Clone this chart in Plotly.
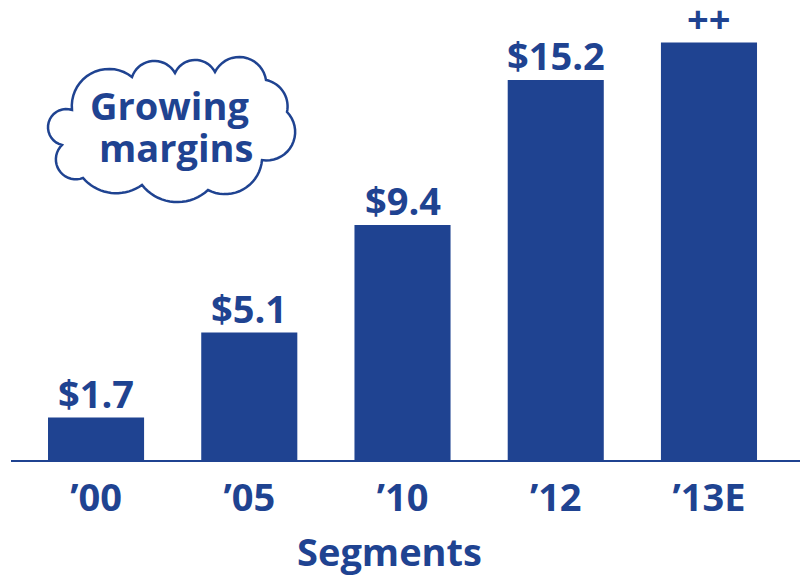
import math
import plotly.graph_objects as go

# Segment profit by year ($B)
years = ["’00", "’05", "’10", "’12", "’13E"]
values = [1.7, 5.1, 9.4, 15.2, 16.7]
labels = ["$1.7", "$5.1", "$9.4", "$15.2", "++"]

BLUE = "#1F4391"
FONT = "Open Sans"
W, H = 810, 583
ML, MR, MT, MB = 11, 10, 10, 123
PW, PH = W - ML - MR, H - MT - MB


def to_paper(px, py):
    return (px - ML) / PW, (H - MB - py) / PH


def arc_points(p0, pm, p1, n=18):
    """Points on the circular arc from p0 through pm to p1 (pixel space)."""
    (x1, y1), (x2, y2), (x3, y3) = p0, pm, p1
    d = 2 * (x1 * (y2 - y3) + x2 * (y3 - y1) + x3 * (y1 - y2))
    ux = ((x1**2 + y1**2) * (y2 - y3) + (x2**2 + y2**2) * (y3 - y1) + (x3**2 + y3**2) * (y1 - y2)) / d
    uy = ((x1**2 + y1**2) * (x3 - x2) + (x2**2 + y2**2) * (x1 - x3) + (x3**2 + y3**2) * (x2 - x1)) / d
    r = math.hypot(x1 - ux, y1 - uy)
    a0 = math.atan2(y1 - uy, x1 - ux)
    am = math.atan2(y2 - uy, x2 - ux)
    a2 = math.atan2(y3 - uy, x3 - ux)
    tau = 2 * math.pi
    dm = (am - a0) % tau
    d2 = (a2 - a0) % tau
    sweep = d2 if dm < d2 else d2 - tau
    return [(ux + r * math.cos(a0 + sweep * i / n), uy + r * math.sin(a0 + sweep * i / n)) for i in range(1, n + 1)]


# Cloud outline: scalloped bumps (start, crest, end) in pixels
bumps = [
    ((62, 145), (48, 128), (72, 110)),
    ((72, 110), (92, 73), (132, 77)),
    ((132, 77), (153, 61), (175, 73)),
    ((175, 73), (195, 60), (215, 72)),
    ((215, 72), (240, 57), (266, 80)),
    ((266, 80), (284, 93), (287, 112)),
    ((287, 112), (295, 135), (262, 160)),
    ((262, 160), (240, 191), (208, 190)),
    ((208, 190), (174, 202), (142, 185)),
    ((142, 185), (112, 193), (83, 178)),
    ((83, 178), (57, 166), (62, 145)),
]
pts = [bumps[0][0]]
for b in bumps:
    pts.extend(arc_points(*b))
paper_pts = [to_paper(x, y) for x, y in pts]
cloud_path = "M " + " L ".join(f"{x:.5f},{y:.5f}" for x, y in paper_pts) + " Z"

label_font = dict(family=FONT, size=38, color=BLUE, weight="bold")

xs = list(range(len(years)))
fig = go.Figure(
    go.Bar(
        x=xs,
        y=values,
        width=0.627,
        marker=dict(color=BLUE, line=dict(width=0)),
        hoverinfo="skip",
    )
)

# Value labels sitting just above each bar
for xi, v, lab in zip(xs, values, labels):
    fig.add_annotation(
        x=xi, y=v, text=lab, xref="x", yref="y",
        xanchor="center", yanchor="bottom", yshift=-3,
        showarrow=False, font=label_font,
    )

fig.add_shape(
    type="path", xref="paper", yref="paper", path=cloud_path,
    line=dict(color=BLUE, width=2.5), fillcolor="rgba(0,0,0,0)",
)

for txt, px, py in [("Growing", 169, 105), ("margins", 176, 147)]:
    ax, ay = to_paper(px, py)
    fig.add_annotation(
        text=txt, xref="paper", yref="paper", x=ax, y=ay,
        xanchor="center", yanchor="middle", showarrow=False,
        font=label_font,
    )

# Axis title
tx, ty = to_paper(389, 551)
fig.add_annotation(
    text="Segments", xref="paper", yref="paper", x=tx, y=ty,
    xanchor="center", yanchor="middle", showarrow=False,
    font=label_font,
)

fig.update_layout(
    width=W, height=H,
    margin=dict(l=ML, r=MR, t=MT, b=MB, pad=0),
    paper_bgcolor="white", plot_bgcolor="white",
    showlegend=False,
    font=dict(family=FONT, color=BLUE),
    xaxis=dict(
        range=[-0.555, 4.594],
        tickmode="array", tickvals=xs, ticktext=years,
        tickfont=label_font, ticklabelstandoff=3,
        ticks="", showgrid=False, zeroline=False,
        showline=True, linecolor=BLUE, linewidth=2,
        fixedrange=True,
    ),
    yaxis=dict(range=[0, PH / 25.0], visible=False, fixedrange=True),
)

fig.write_html("out.html")
